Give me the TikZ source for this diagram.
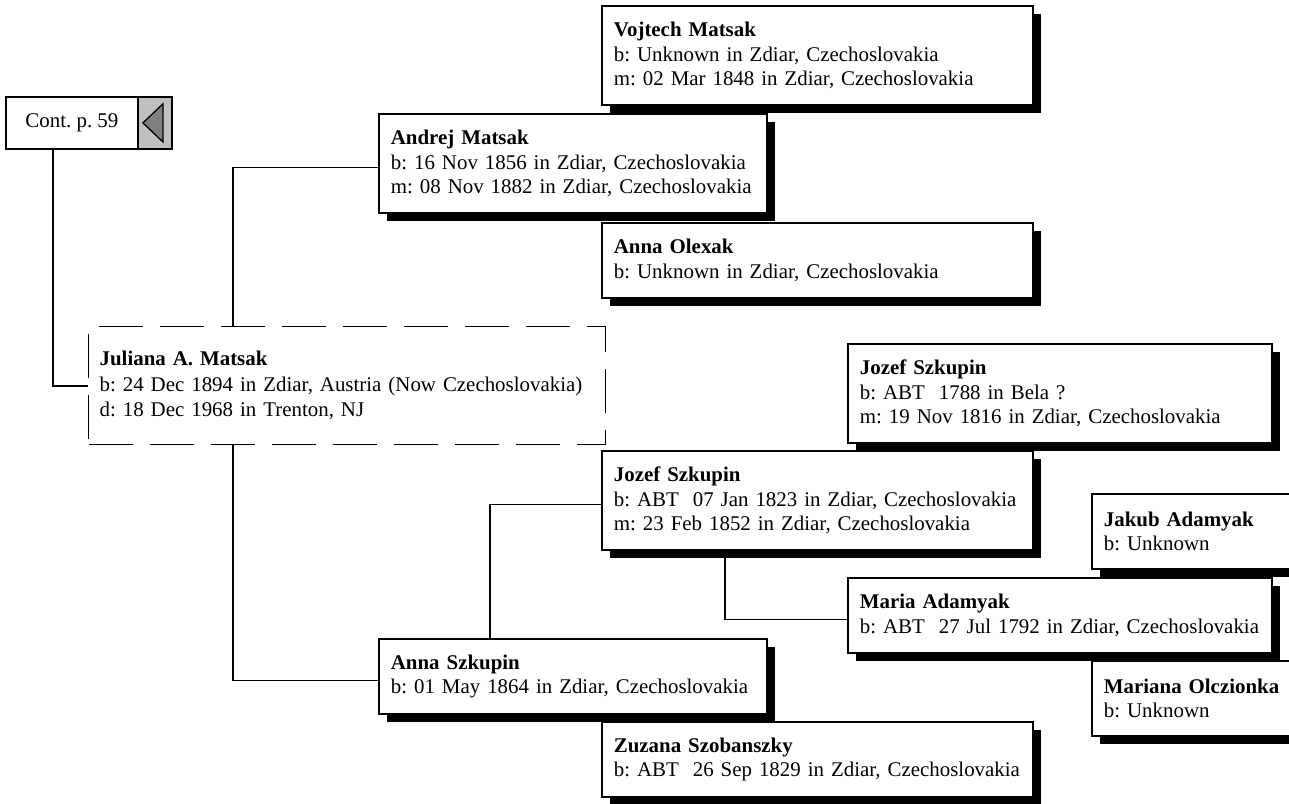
\documentclass[tikz,border=0pt]{standalone}
\usepackage{fontspec}
\setmainfont{Liberation Serif}
\usetikzlibrary{shadows,positioning}
\definecolor{panelgray}{HTML}{C0C0C0}
\definecolor{tipgray}{HTML}{808080}
\newcommand{\who}[1]{\textbf{#1}}
\frenchspacing

\begin{document}
\begin{tikzpicture}[x=1pt,y=-1pt,
    person/.style={rectangle,draw,line width=1.8pt,fill=white,anchor=north west,align=left,
      inner xsep=12pt,inner ysep=0pt,font={\fontsize{20.9}{24.5}\selectfont},
      drop shadow={shadow xshift=8pt,shadow yshift=-8pt,fill=black,opacity=1}},
    gentwo/.style={person,text width=364pt},
    genthree/.style={person,text width=407pt},
    genfour/.style={person,text width=400pt},
    threeline/.style={minimum height=99pt},
    twoline/.style={minimum height=75pt},
    proband/.style={rectangle,draw,line width=1.3pt,dash pattern=on 44pt off 17pt,anchor=north west,
      align=left,inner xsep=11pt,inner ysep=0pt,text width=495pt,minimum height=118pt,
      font={\fontsize{20.9}{25.5}\selectfont}},
    link/.style={line width=1.7pt}
    ]
    \useasboundingbox (0,0) rectangle (1289,803);
    \clip (0,0) rectangle (1289,803);

    \node[draw,line width=1.8pt,anchor=north west,minimum width=132pt,minimum height=52pt,
      inner sep=0pt,font={\fontsize{20.9}{24.5}\selectfont}] (cont) at (5,96) {Cont. p. 59};
    \node[draw,line width=1.8pt,fill=panelgray,anchor=north west,minimum width=34pt,
      minimum height=52pt,inner sep=0pt] (contarrow) at (137,96) {};
    \draw[line width=1.3pt,fill=tipgray] ([xshift=-12pt]contarrow.center)
      -- ([xshift=8pt,yshift=19pt]contarrow.center)
      -- ([xshift=8pt,yshift=-19pt]contarrow.center) -- cycle;

    \node[genthree,threeline] (vojtech) at (601,5) {
      \who{Vojtech Matsak}\\b: Unknown in Zdiar, Czechoslovakia\\m: 02 Mar 1848 in Zdiar, Czechoslovakia
    };
    \node[gentwo,threeline] (andrej) at (378,113) {
      \who{Andrej Matsak}\\b: 16 Nov 1856 in Zdiar, Czechoslovakia\\m: 08 Nov 1882 in Zdiar, Czechoslovakia
    };
    \node[genthree,twoline] (olexak) at (601,222) {
      \who{Anna Olexak}\\b: Unknown in Zdiar, Czechoslovakia
    };

    \node[proband] (juliana) at (88,326) {
      \who{Juliana A. Matsak}\\b: 24 Dec 1894 in Zdiar, Austria (Now Czechoslovakia)\\d: 18 Dec 1968 in Trenton, NJ
    };

    \node[genthree,threeline] (jozefb) at (601,450) {
      \who{Jozef Szkupin}\\b: ABT~~07 Jan 1823 in Zdiar, Czechoslovakia\\m: 23 Feb 1852 in Zdiar, Czechoslovakia
    };
    \node[genfour,threeline] (jozefa) at (847,343) {
      \who{Jozef Szkupin}\\b: ABT~~1788 in Bela ?\\m: 19 Nov 1816 in Zdiar, Czechoslovakia
    };
    \node[genthree,twoline] (jakub) at (1091,493) {
      \who{Jakub Adamyak}\\b: Unknown
    };
    \node[genfour,twoline] (maria) at (847,577) {
      \who{Maria Adamyak}\\b: ABT~~27 Jul 1792 in Zdiar, Czechoslovakia
    };
    \node[genthree,twoline] (mariana) at (1091,660) {
      \who{Mariana Olczionka}\\b: Unknown
    };
    \node[genthree,twoline] (zuzana) at (601,721) {
      \who{Zuzana Szobanszky}\\b: ABT~~26 Sep 1829 in Zdiar, Czechoslovakia
    };
    \node[gentwo,twoline] (annasz) at (378,638) {
      \who{Anna Szkupin}\\b: 01 May 1864 in Zdiar, Czechoslovakia
    };

    % lines between the generations
    \draw[link] ([xshift=-19pt]cont.south) |- (juliana.west);
    \draw[link] ([xshift=145pt]juliana.north west) |- ([yshift=-4pt]andrej.west);
    \draw[link] ([xshift=145pt]juliana.south west) |- ([yshift=-4pt]annasz.west);
    \draw[link] ([xshift=112pt]annasz.north west) |- ([yshift=-4pt]jozefb.west);
    \draw[link] ([xshift=124pt]jozefb.south west) |- ([yshift=-4pt]maria.west);

  \end{tikzpicture}
\end{document}
